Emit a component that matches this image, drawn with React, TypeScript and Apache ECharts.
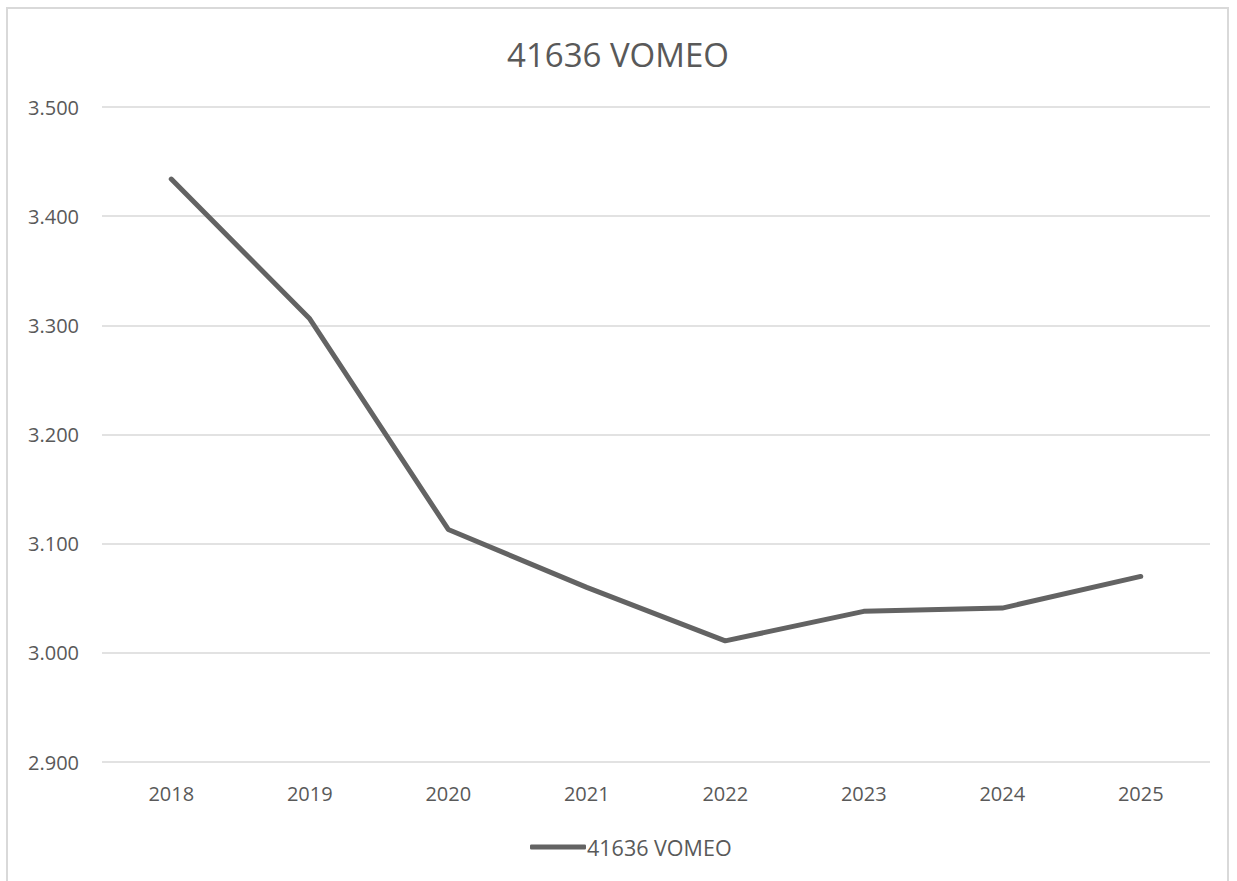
import React, { useEffect, useRef } from "react";
import * as echarts from "echarts";

const title = "41636 VOMEO";
const categories = ["2018", "2019", "2020", "2021", "2022", "2023", "2024", "2025"];
const values = [3434, 3306, 3113, 3060, 3011, 3038, 3041, 3070];
const yMin = 2900;
const yMax = 3500;
const yStep = 100;

const fmt = (v: number) => {
  const s = Math.round(v).toString();
  return s.replace(/\B(?=(\d{3})+(?!\d))/g, ".");
};

export default function App() {
  const ref = useRef<HTMLDivElement>(null);
  useEffect(() => {
    if (!ref.current) return;
    const chart = echarts.init(ref.current, undefined, { renderer: "svg" });
    const font = "Open Sans, Liberation Sans, sans-serif";
    chart.setOption({
      animation: false,
      title: {
        text: title,
        left: "center",
        top: 25,
        textStyle: { fontFamily: font, fontSize: 33, fontWeight: "normal", color: "#595959" },
      },
      legend: {
        bottom: 23,
        left: 517,
        itemWidth: 56,
        itemHeight: 5,
        itemGap: 4,
        icon: "roundRect",
        textStyle: { fontFamily: font, fontSize: 21.5, color: "#595959", padding: [0, 0, 0, -4] },
        data: [title],
      },
      grid: { left: 94, right: 18, top: 99, bottom: 124, containLabel: false },
      xAxis: {
        type: "category",
        data: categories,
        boundaryGap: true,
        axisLine: { show: false },
        axisTick: { show: false },
        axisLabel: { fontFamily: font, fontSize: 20, color: "#595959", margin: 21 },
      },
      yAxis: {
        type: "value",
        min: yMin,
        max: yMax,
        interval: yStep,
        axisLine: { show: false },
        axisTick: { show: false },
        axisLabel: { fontFamily: font, fontSize: 20, color: "#595959", margin: 23, formatter: fmt },
        splitLine: { lineStyle: { color: "#d9d9d9", width: 1.5 } },
      },
      series: [
        {
          name: title,
          type: "line",
          data: values,
          symbol: "none",
          lineStyle: { color: "#636363", width: 5, cap: "round", join: "round" },
          itemStyle: { color: "#636363" },
        },
      ],
    });
    return () => chart.dispose();
  }, []);
  return (
    <div
      style={{
        position: "absolute",
        left: 6,
        top: 7,
        width: 1223,
        height: 880,
        background: "#fff",
      }}
    >
      <div ref={ref} style={{ position: "absolute", left: 2, top: 1, width: 1220, height: 878 }} />
      <div
        style={{
          position: "absolute",
          left: 0,
          top: 0,
          width: 1223,
          height: 880,
          boxSizing: "border-box",
          border: "2px solid #d9d9d9",
          pointerEvents: "none",
          zIndex: 10,
        }}
      />
    </div>
  );
}
